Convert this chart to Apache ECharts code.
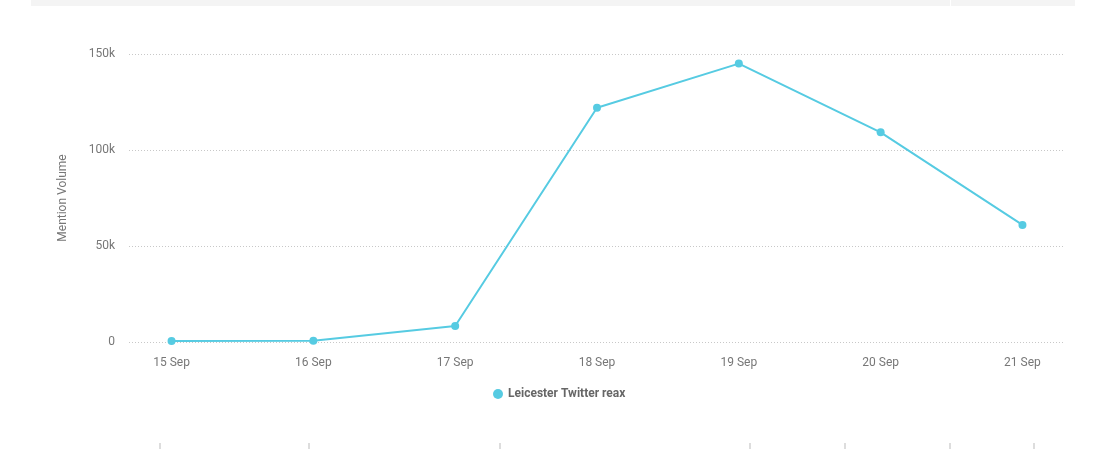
<!DOCTYPE html>
<html><head><meta charset="utf-8">
<script src="https://cdn.jsdelivr.net/npm/echarts@6/dist/echarts.min.js"></script>
<style>html,body{margin:0;padding:0;background:#fff}#c{width:1101px;height:449px}</style>
</head><body><div id="c"></div>
<script>
const categories = ['15 Sep','16 Sep','17 Sep','18 Sep','19 Sep','20 Sep','21 Sep'];
const mentions = [500, 600, 8300, 122000, 145000, 109200, 61000];
const yTicks = [0, 50000, 100000, 150000];
const seriesName = 'Leicester Twitter reax';

const chart = echarts.init(document.getElementById('c'), null, {renderer:'canvas'});
const font = 'Roboto, "Open Sans", sans-serif';
const idx = categories.map((_, i) => i);
chart.setOption({
  animation: false,
  textStyle: {fontFamily: font},
  grid: {left: 129, right: 36, top: 54, bottom: 107},
  legend: {
    data: [seriesName], top: 383, left: 488, icon: 'circle',
    itemWidth: 10, itemHeight: 10, itemGap: 7,
    textStyle: {color: '#666', fontSize: 12, fontWeight: 'bold', fontFamily: font}
  },
  xAxis: {
    type: 'value', min: -0.3, max: 6.3,
    axisLine: {show: false}, axisTick: {show: false}, splitLine: {show: false},
    axisLabel: {
      customValues: idx, color: '#777', fontSize: 12, margin: 15,
      formatter: v => categories[Math.round(v)] || ''
    }
  },
  yAxis: {
    type: 'value', min: 0, max: 150000, interval: 50000,
    name: 'Mention Volume', nameLocation: 'middle', nameGap: 60,
    nameTextStyle: {color: '#777', fontSize: 12},
    axisLine: {show: false}, axisTick: {show: false},
    axisLabel: {color: '#777', fontSize: 12, margin: 14,
      formatter: v => v === 0 ? '0' : (v / 1000) + 'k'},
    splitLine: {lineStyle: {color: '#c8c8c8', type: [1, 2], width: 1}}
  },
  series: [{
    name: seriesName, type: 'line',
    data: mentions.map((v, i) => [idx[i], v]),
    symbol: 'circle', symbolSize: 8,
    itemStyle: {color: '#56cbe2'},
    lineStyle: {color: '#56cbe2', width: 2}
  }],
  graphic: [
    {type: 'rect', shape: {x: 31, y: 0, width: 1044, height: 6}, style: {fill: '#f4f4f4'}},
    {type: 'rect', shape: {x: 950, y: 0, width: 1, height: 6}, style: {fill: '#ffffff'}},
    ...[160, 309, 500, 750, 845, 950, 1034].map(x => ({
      type: 'line', shape: {x1: x, y1: 443, x2: x, y2: 449}, style: {stroke: '#bbbbbb', lineWidth: 1}
    }))
  ]
});
</script></body></html>
